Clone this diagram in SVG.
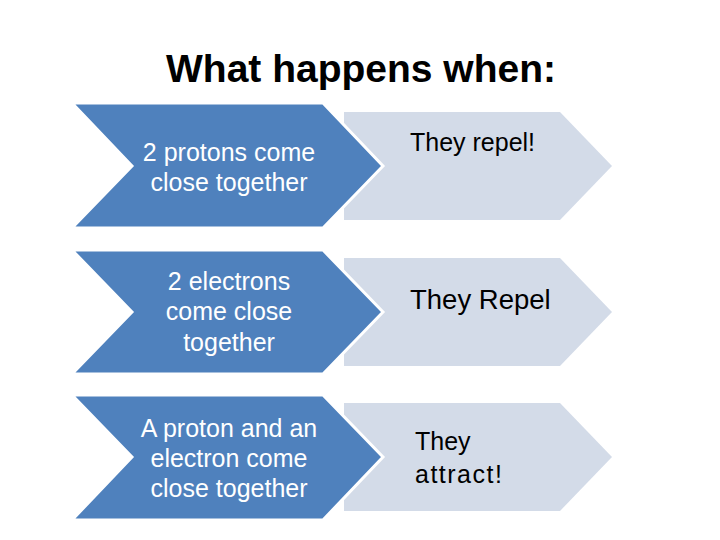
<svg xmlns="http://www.w3.org/2000/svg" width="720" height="540" viewBox="0 0 720 540">
<style>
.dark{fill:#4F81BD;stroke:#FFFFFF;stroke-width:3;stroke-linejoin:miter}
.light{fill:#D3DBE8}
.wt{font-family:"Liberation Sans",Arial,sans-serif;font-size:25px;fill:#FFFFFF;text-anchor:middle}
.bt{font-family:"Liberation Sans",Arial,sans-serif;font-size:25px;fill:#000000}
.title{font-family:"Liberation Sans",Arial,sans-serif;font-size:39px;font-weight:bold;fill:#000000;text-anchor:middle}
</style>
<rect width="720" height="540" fill="#FFFFFF"/>
<g id="title"><text class="title" x="361" y="82">What happens when:</text></g>

<g id="result1">
<polygon class="light" points="344,112 560,112 612,166 560,220 344,220"/>
<text class="bt" x="410" y="151">They repel!</text>
</g>
<g id="cause1">
<polygon class="dark" points="72,103 323,103 383,166 323,228 72,228 132,166"/>
<text class="wt" x="229" y="161">2 protons come</text>
<text class="wt" x="229" y="191">close together</text>
</g>

<g id="result2">
<polygon class="light" points="344,258 560,258 612,312 560,366 344,366"/>
<text class="bt" x="410" y="309" style="font-size:27.5px">They Repel</text>
</g>
<g id="cause2">
<polygon class="dark" points="72,250 323,250 383,312 323,374 72,374 132,312"/>
<text class="wt" x="229" y="290">2 electrons</text>
<text class="wt" x="229" y="320">come close</text>
<text class="wt" x="229" y="351">together</text>
</g>

<g id="result3">
<polygon class="light" points="344,403 560,403 612,457 560,511 344,511"/>
<text class="bt" x="415" y="450">They</text>
<text class="bt" x="415" y="483" style="letter-spacing:1.5px">attract!</text>
</g>
<g id="cause3">
<polygon class="dark" points="72,395 323,395 383,457 323,520 72,520 132,457"/>
<text class="wt" x="229" y="437">A proton and an</text>
<text class="wt" x="229" y="467">electron come</text>
<text class="wt" x="229" y="497">close together</text>
</g>
</svg>
